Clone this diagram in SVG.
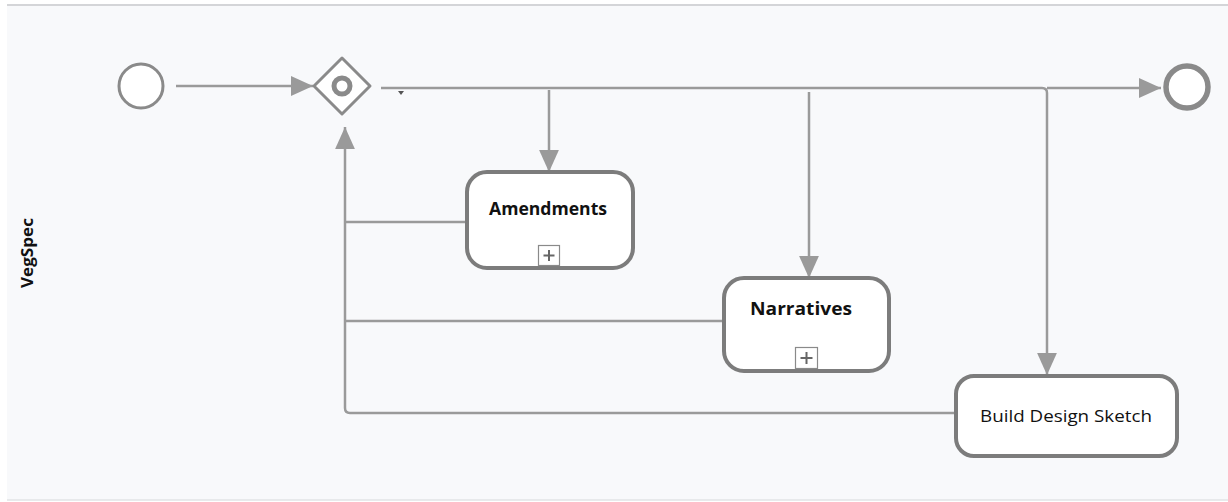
<svg xmlns="http://www.w3.org/2000/svg" width="1228" height="502" viewBox="0 0 1228 502">
<defs>
<style>
.conn{fill:none;stroke:#9a9a9a;stroke-width:2.5}
.task{fill:#ffffff;stroke:#7c7c7c;stroke-width:4}
.lbl{font-family:"Open Sans","Liberation Sans",sans-serif;font-size:17px;fill:#111;text-anchor:middle}
.b{font-weight:bold}
.mk{fill:#ffffff;stroke:#8a8a8a;stroke-width:1.2}
</style>
<marker id="arrB" viewBox="0 0 10 10" refX="10" refY="5" markerWidth="22" markerHeight="22" markerUnits="userSpaceOnUse" orient="auto">
<path d="M0,0.5 L10,5 L0,9.5 z" fill="#9a9a9a"/>
</marker>
</defs>
<rect x="0" y="0" width="1228" height="502" fill="#ffffff"/>
<rect x="7" y="6" width="1221" height="494" fill="#f8f9fb"/>
<line x1="7" y1="5" x2="1228" y2="5" stroke="#d4d5d8" stroke-width="2"/>
<line x1="7" y1="500" x2="1228" y2="500" stroke="#e2e3e6" stroke-width="1.5"/>
<text x="33" y="253" transform="rotate(-90 33 253)" class="lbl b" style="font-size:16px" textLength="70" lengthAdjust="spacingAndGlyphs">VegSpec</text>

<g id="connectors">
<path class="conn" d="M176,86 H313" marker-end="url(#arrB)"/>
<path class="conn" d="M381,88 H1042 Q1047,88 1047,93 V375" marker-end="url(#arrB)"/>
<path class="conn" d="M1047,88 H1161" marker-end="url(#arrB)"/>
<path class="conn" d="M549,90 V172" marker-end="url(#arrB)"/>
<path class="conn" d="M809,92 V278" marker-end="url(#arrB)"/>
<path class="conn" d="M467,222 H345"/>
<path class="conn" d="M724,321 H345"/>
<path class="conn" d="M956,413 H350 Q345,413 345,408 V127" marker-end="url(#arrB)"/>
<path d="M398,91 L404,91 L401,95 z" fill="#555"/>
</g>

<g id="start">
<circle cx="141" cy="86" r="22" fill="#ffffff" stroke="#8a8a8a" stroke-width="3"/>
</g>

<g id="gateway">
<path d="M342,58 L370,86 L342,114 L314,86 z" fill="#ffffff" stroke="#8a8a8a" stroke-width="3" stroke-linejoin="round"/>
<circle cx="342" cy="86" r="8" fill="none" stroke="#8a8a8a" stroke-width="5"/>
</g>

<g id="end">
<circle cx="1187" cy="87" r="21" fill="#ffffff" stroke="#8a8a8a" stroke-width="5.5"/>
</g>

<g id="amendments">
<rect class="task" x="467" y="172" width="166" height="96" rx="20"/>
<text x="548" y="215" class="lbl b" textLength="118" lengthAdjust="spacingAndGlyphs">Amendments</text>
<rect class="mk" x="538.5" y="245.5" width="21" height="20"/>
<path d="M549,250 V261 M543.5,255.5 H554.5" stroke="#666" stroke-width="2"/>
</g>

<g id="narratives">
<rect class="task" x="724" y="278" width="165" height="93" rx="20"/>
<text x="801" y="315" class="lbl b" textLength="102" lengthAdjust="spacingAndGlyphs">Narratives</text>
<rect class="mk" x="795.5" y="347.5" width="22" height="21"/>
<path d="M806.5,352 V364 M800.5,358 H812.5" stroke="#666" stroke-width="2"/>
</g>

<g id="build">
<rect class="task" x="956" y="376" width="221" height="80" rx="18"/>
<text x="1066" y="422" class="lbl" textLength="172" lengthAdjust="spacingAndGlyphs">Build Design Sketch</text>
</g>
</svg>
